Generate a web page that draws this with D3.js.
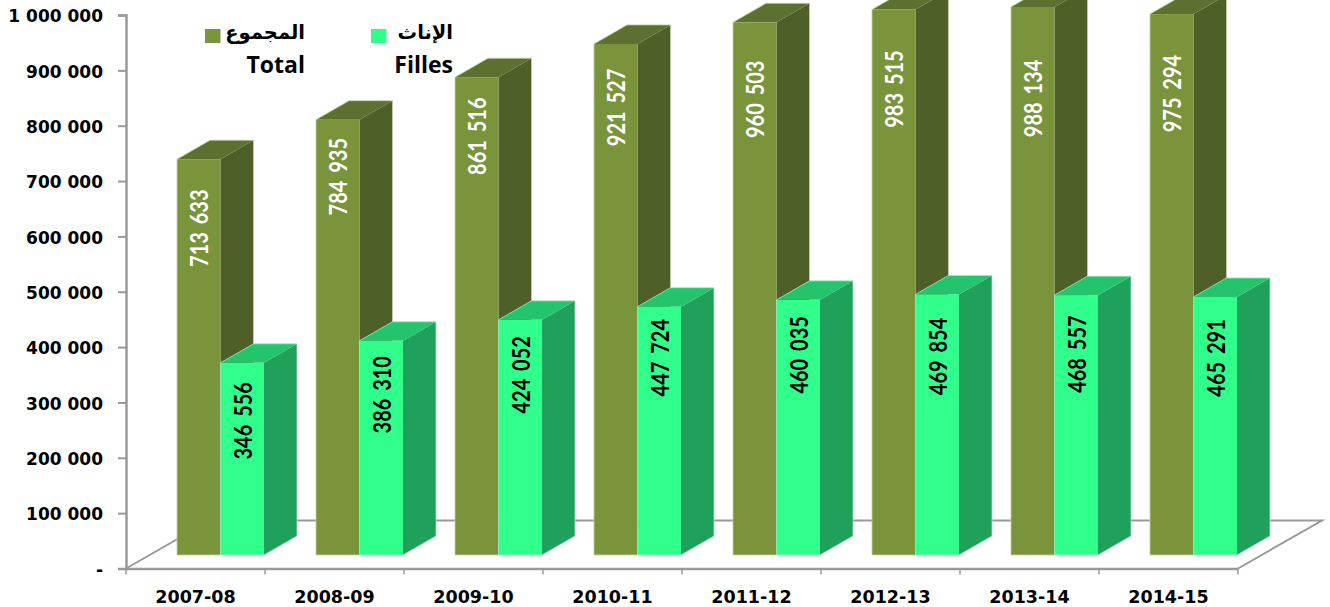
<!DOCTYPE html>
<html>
<head>
<meta charset="utf-8">
<title>Total / Filles</title>
<script src="https://cdn.jsdelivr.net/npm/d3@7"></script>
<style>
  body { margin: 0; background: #fff; }
  svg { display: block; }
  .axis text { font-family: "DejaVu Sans", sans-serif; font-weight: 700; font-size: 17px; fill: #000; }
  .x-axis text { font-size: 17.5px; }
  .legend text { font-family: "Open Sans", sans-serif; font-weight: 700; font-size: 23px; fill: #000; }
  .legend text.ar { font-family: "DejaVu Sans", sans-serif; font-size: 19.5px; }
  .bar-label { font-family: Lato, sans-serif; font-size: 20px; font-weight: 700; word-spacing: 3px; text-anchor: middle; dominant-baseline: central; }
</style>
</head>
<body>
<svg id="chart" width="1330" height="607"></svg>
<script>
const years = ['2007-08', '2008-09', '2009-10', '2010-11', '2011-12', '2012-13', '2013-14', '2014-15'];
const total = [713633, 784935, 861516, 921527, 960503, 983515, 988134, 975294];
const filles = [346556, 386310, 424052, 447724, 460035, 469854, 468557, 465291];
const yTicks = [0, 100000, 200000, 300000, 400000, 500000, 600000, 700000, 800000, 900000, 1000000];
const seriesNames = ['total', 'filles'];

// the labels were moved by hand in the source chart, so they sit at no fixed spot
const totalLabelDrop = [69, 57, 59, 63.5, 77, 79.5, 91.5, 79.5];
const fillesLabelDrop = [58, 54, 55, 51, 55, 62, 59, 61];

const colors = {
  total: { front: '#7a943c', top: '#5c7030', side: '#4e5f27', edge: '#c5d0a8', label: '#fff' },
  filles: { front: '#31ff8b', top: '#24c46c', side: '#1fa15c', edge: '#a8e8c4', label: '#000' },
};
const grey = '#999';

const svg = d3.select('#chart');

// axis plane and the plane of the bar fronts have the same scale, the fronts sit further up
const yAxisScale = d3.scaleLinear().domain([0, 1000000]).range([568.5, 15]);
const yBar = d3.scaleLinear().domain([0, 1000000]).range([555, 0.4]);
const x = d3.scaleBand().domain(years).range([126, 1238]).paddingInner(0.374).paddingOuter(0.187);
const xSeries = d3.scaleBand().domain(seriesNames).range([0, x.bandwidth()]);

const fmt = d3.formatLocale({ decimal: '.', thousands: ' ', grouping: [3], currency: ['', ''] }).format(',d');

const depthX = 33, depthY = -19;   // bar depth
const barShift = 25;               // bars stand part way in on the floor
const floorX = 84, floorY = -48;   // floor depth

// floor
const x0 = x.range()[0], x1 = x.range()[1], yFloor = yAxisScale(0);
svg.append('path')
  .attr('d', `M${x0},${yFloor}L${x0 + floorX},${yFloor + floorY}L${x1 + floorX},${yFloor + floorY}L${x1},${yFloor}`)
  .attr('fill', 'none')
  .attr('stroke', grey)
  .attr('stroke-width', 2);

// bars
const poly = pts => 'M' + pts.map(p => p.join(',')).join('L') + 'Z';

const groups = svg.selectAll('g.year')
  .data(years)
  .enter()
  .append('g')
  .attr('class', 'year')
  .attr('transform', d => `translate(${x(d) + barShift},0)`);

seriesNames.forEach((name) => {
  const values = name === 'total' ? total : filles;
  const c = colors[name];
  const bw = xSeries.bandwidth();
  const left = xSeries(name);
  const bar = groups.append('g');
  const topOf = (_, i) => yBar(values[i]);
  const base = yBar(0);

  bar.append('path')
    .attr('fill', c.side)
    .attr('d', (d, i) => poly([
      [left + bw, topOf(d, i)], [left + bw + depthX, topOf(d, i) + depthY],
      [left + bw + depthX, base + depthY], [left + bw, base],
    ]));
  bar.append('path')
    .attr('fill', c.top)
    .attr('d', (d, i) => poly([
      [left, topOf(d, i)], [left + depthX, topOf(d, i) + depthY],
      [left + bw + depthX, topOf(d, i) + depthY], [left + bw, topOf(d, i)],
    ]));
  bar.append('rect')
    .attr('fill', c.front)
    .attr('x', left)
    .attr('y', topOf)
    .attr('width', bw)
    .attr('height', (d, i) => base - topOf(d, i));
  // pale rim around the whole block
  bar.append('path')
    .attr('fill', 'none')
    .attr('stroke', c.edge)
    .attr('stroke-width', 0.8)
    .attr('d', (d, i) => poly([
      [left, base], [left, topOf(d, i)], [left + depthX, topOf(d, i) + depthY],
      [left + bw + depthX, topOf(d, i) + depthY], [left + bw + depthX, base + depthY], [left + bw, base],
    ]));
});

// value labels, on top of all the blocks
seriesNames.forEach((name) => {
  const values = name === 'total' ? total : filles;
  const drops = name === 'total' ? totalLabelDrop : fillesLabelDrop;
  groups.append('text')
    .attr('class', 'bar-label')
    .attr('fill', colors[name].label)
    .attr('transform', (d, i) => {
      const cx = xSeries(name) + xSeries.bandwidth() / 2;
      return `translate(${cx},${yBar(values[i]) + drops[i]}) rotate(-90) scale(1,1.25)`;
    })
    .text((d, i) => fmt(values[i]));
});

// y axis
const yAxis = svg.append('g')
  .attr('class', 'axis')
  .attr('transform', `translate(${x0},0)`)
  .call(d3.axisLeft(yAxisScale)
    .tickValues(yTicks)
    .tickSize(8)
    .tickPadding(15)
    .tickFormat(d => d === 0 ? '-' : fmt(d)));
yAxis.selectAll('line').attr('stroke', grey).attr('stroke-width', 2);
yAxis.selectAll('text').attr('dy', '0.4em');
yAxis.select('.domain').attr('stroke', grey).attr('stroke-width', 2.5);

// x axis, ticks fall between the categories
const xAxis = svg.append('g')
  .attr('class', 'axis x-axis')
  .attr('transform', `translate(0,${yFloor})`)
  .call(d3.axisBottom(x).tickSize(0).tickPadding(22));
xAxis.select('.domain').attr('stroke', grey).attr('stroke-width', 2.5);
xAxis.selectAll('.edge')
  .data(d3.range(years.length + 1))
  .enter()
  .append('line')
  .attr('class', 'edge')
  .attr('x1', i => x0 + i * x.step())
  .attr('x2', i => x0 + i * x.step())
  .attr('y2', 6)
  .attr('stroke', grey)
  .attr('stroke-width', 1.5);

// legend
const legendNames = [
  { key: 'total', ar: 'المجموع', fr: 'Total', swatch: 205, right: 305 },
  { key: 'filles', ar: 'الإناث', fr: 'Filles', swatch: 371, right: 453 },
];
const legend = svg.append('g').attr('class', 'legend');
legendNames.forEach((d) => {
  legend.append('rect')
    .attr('x', d.swatch).attr('y', 29)
    .attr('width', 15.5).attr('height', 14)
    .attr('fill', colors[d.key].front);
  legend.append('text')
    .attr('class', 'ar')
    .attr('x', d.right).attr('y', 39)
    .attr('text-anchor', 'end')
    .attr('direction', 'ltr')
    .text(d.ar);
  legend.append('text')
    .attr('x', d.right).attr('y', 73)
    .attr('text-anchor', 'end')
    .text(d.fr);
});
</script>
</body>
</html>
